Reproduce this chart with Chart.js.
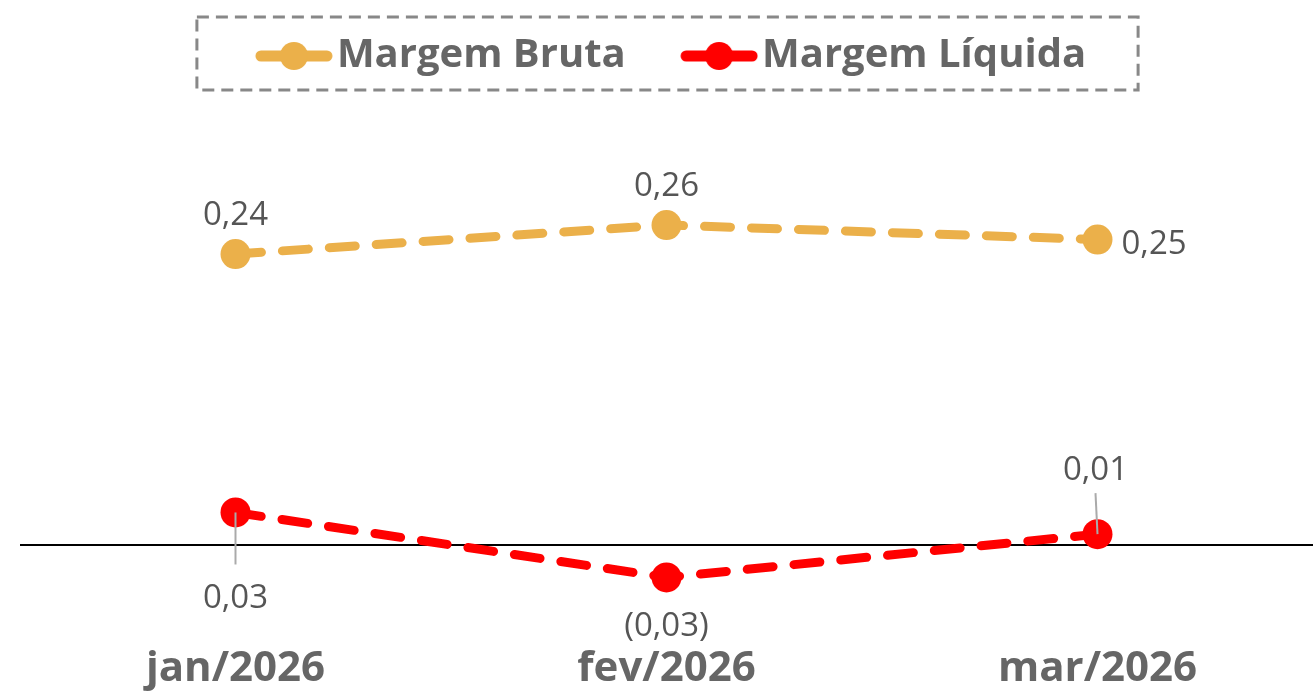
<!DOCTYPE html>
<html>
<head>
<meta charset="utf-8">
<script src="https://cdn.jsdelivr.net/npm/chart.js@4.4.1/dist/chart.umd.min.js"></script>
<style>
  html, body { margin: 0; padding: 0; background: #fff; overflow: hidden; }
</style>
</head>
<body>
<canvas id="margens" width="1315" height="691"></canvas>
<script>
// dados
const meses = ['jan/2026', 'fev/2026', 'mar/2026'];
const margemBruta = [0.24, 0.26, 0.25];
const margemLiquida = [0.03, -0.03, 0.01];

const laranja = '#ebb04a';
const vermelho = '#ff0000';
const cinzaTexto = '#666666';

// faixas dos eixos (bruta em eixo secundario)
const liqMin = -0.0837, liqMax = 0.4238;
const brutaMin = -0.0232, brutaMax = 0.3559;

// posicao dos rotulos: [dx, dy, alinhamento, linha guia]
const rotulosBruta = [[0, -38, 'center', 0], [0, -38, 'center', 0], [24, 5, 'left', 0]];
const rotulosLiquida = [[0, 86, 'center', 52], [0, 49, 'center', 0], [-2, -64, 'center', -41]];

function fmt(v) {
  const s = Math.abs(v).toFixed(2).replace('.', ',');
  return v < 0 ? '(' + s + ')' : s;
}

// simbolo da legenda: linha com bolinha, desenhado na parte direita do canvas
const legFont = 40, legBox = 70, legW = legBox + legFont - 8;
function simbolo(cor) {
  const c = document.createElement('canvas');
  c.width = legW; c.height = 32;
  const g = c.getContext('2d');
  const x0 = legW - 78;
  g.strokeStyle = cor; g.lineWidth = 11; g.lineCap = 'round';
  g.beginPath(); g.moveTo(x0 + 6, 16); g.lineTo(legW - 6, 16); g.stroke();
  g.fillStyle = cor;
  g.beginPath(); g.arc(x0 + 39, 16, 14, 0, Math.PI * 2); g.fill();
  return c;
}

const valueLabels = {
  id: 'valueLabels',
  afterDatasetsDraw(chart) {
    const ctx = chart.ctx;
    const conf = [rotulosBruta, rotulosLiquida];
    ctx.save();
    ctx.font = '33px "Open Sans", sans-serif';
    ctx.fillStyle = '#555555';
    ctx.textBaseline = 'middle';
    chart.data.datasets.forEach((ds, i) => {
      chart.getDatasetMeta(i).data.forEach((pt, j) => {
        const [dx, dy, align, guia] = conf[i][j];
        if (guia) {
          ctx.strokeStyle = '#aaaaaa';
          ctx.lineWidth = 2;
          ctx.beginPath();
          ctx.moveTo(pt.x, pt.y);
          ctx.lineTo(pt.x + dx, pt.y + guia);
          ctx.stroke();
        }
        ctx.textAlign = align;
        ctx.fillText(fmt(ds.data[j]), pt.x + dx, pt.y + dy);
      });
    });
    ctx.restore();
  }
};

const legendBorder = {
  id: 'legendBorder',
  afterDraw(chart) {
    const boxes = chart.legend.legendHitBoxes;
    if (!boxes || !boxes.length) return;
    const first = boxes[0], last = boxes[boxes.length - 1];
    const symLeft = first.left + legBox / 2 + legW / 2 - 78;
    const left = symLeft - 58, right = last.left + last.width + 52;
    const ctx = chart.ctx;
    ctx.save();
    ctx.strokeStyle = '#888888';
    ctx.lineWidth = 3;
    ctx.setLineDash([12, 7]);
    ctx.strokeRect(left, 17, right - left, 73);
    ctx.restore();
  }
};

new Chart(document.getElementById('margens'), {
  type: 'line',
  data: {
    labels: meses,
    datasets: [{
      label: 'Margem Bruta',
      data: margemBruta,
      yAxisID: 'y1',
      borderColor: laranja,
      backgroundColor: laranja,
      borderWidth: 9,
      borderDash: [26, 21],
      borderCapStyle: 'round',
      pointRadius: 15,
      pointBorderWidth: 0,
      fill: false
    }, {
      label: 'Margem Líquida',
      data: margemLiquida,
      yAxisID: 'y',
      borderColor: vermelho,
      backgroundColor: vermelho,
      borderWidth: 9,
      borderDash: [26, 21],
      borderCapStyle: 'round',
      pointRadius: 15,
      pointBorderWidth: 0,
      fill: false
    }]
  },
  options: {
    responsive: false,
    animation: false,
    layout: { autoPadding: false, padding: { left: 20, right: 2, top: 0, bottom: -11 } },
    plugins: {
      tooltip: { enabled: false },
      legend: {
        position: 'top',
        labels: {
          usePointStyle: true,
          pointStyleWidth: legBox,
          padding: 36,
          color: cinzaTexto,
          font: { family: '"Open Sans", sans-serif', size: legFont, weight: 'bold' },
          generateLabels(chart) {
            const n = chart.data.datasets.length;
            return chart.data.datasets.map((ds, i) => ({
              // espaco extra entre os itens
              text: i < n - 1 ? ds.label + ' ' : ds.label,
              pointStyle: simbolo(ds.borderColor),
              fillStyle: ds.borderColor,
              strokeStyle: ds.borderColor,
              lineWidth: 0,
              fontColor: cinzaTexto,
              hidden: false,
              datasetIndex: i
            }));
          }
        }
      }
    },
    scales: {
      x: {
        offset: true,
        grid: { display: false, drawTicks: false },
        border: { display: false },
        ticks: {
          color: cinzaTexto,
          padding: 8,
          font: { family: '"Open Sans", sans-serif', size: 42, weight: 'bold' }
        }
      },
      y: {
        min: liqMin,
        max: liqMax,
        ticks: { display: false },
        border: { display: false },
        grid: {
          drawTicks: false,
          color: c => Math.abs(c.tick.value) < 1e-9 ? '#000000' : 'rgba(0,0,0,0)',
          lineWidth: c => Math.abs(c.tick.value) < 1e-9 ? 2 : 0
        }
      },
      y1: {
        display: false,
        min: brutaMin,
        max: brutaMax
      }
    }
  },
  plugins: [valueLabels, legendBorder]
});
</script>
</body>
</html>
